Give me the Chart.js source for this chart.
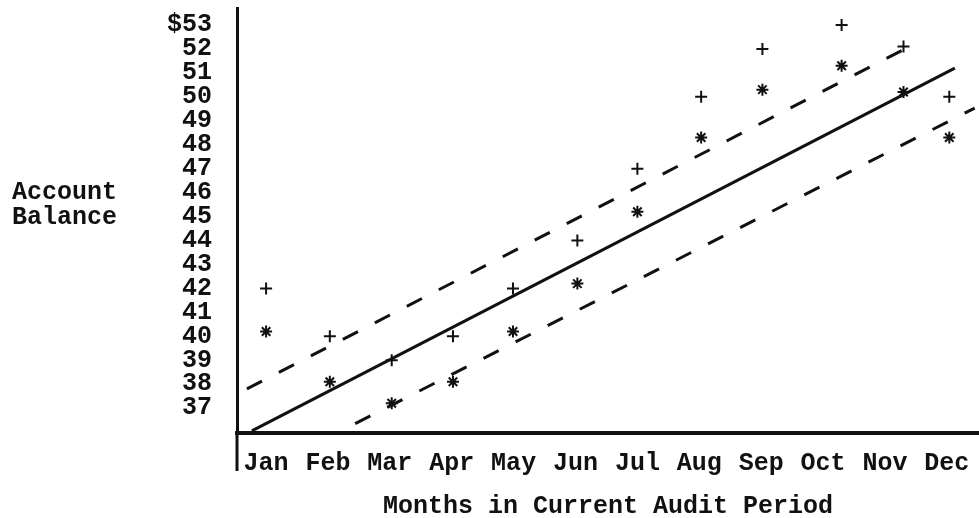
<!DOCTYPE html>
<html>
<head>
<meta charset="utf-8">
<script src="https://cdn.jsdelivr.net/npm/chart.js@4.4.1/dist/chart.umd.min.js"></script>
<style>
    body { margin: 0; background: #fff; }
    canvas { display: block; }
</style>
</head>
<body>
<canvas id="audit-chart" width="979" height="518"></canvas>
<script>
// --- data ---
const months = ['Jan', 'Feb', 'Mar', 'Apr', 'May', 'Jun', 'Jul', 'Aug', 'Sep', 'Oct', 'Nov', 'Dec'];
// where each pair of marks was typed, in months from Jan (Oct/Nov sit a bit right)
const markX = [0, 1.03, 2.03, 3.02, 3.99, 5.03, 6.0, 7.03, 8.02, 9.3, 10.3, 11.04];
const plusValues = [42.0, 40.0, 39.0, 40.0, 42.0, 44.0, 47.0, 50.0, 52.0, 53.0, 52.1, 50.0];
const starValues = [40.2, 38.1, 37.2, 38.1, 40.2, 42.2, 45.2, 48.3, 50.3, 51.3, 50.2, 48.3];

// trend line and the two dashed limit lines, end points only
const trendX = [-0.23, 11.13];
const trendY = [36.05, 51.2];
const upperX = [-0.31, 10.32];
const upperY = [37.8, 52.0];
const lowerX = [1.44, 11.45];
const lowerY = [36.35, 49.53];

const yTicks = [37, 38, 39, 40, 41, 42, 43, 44, 45, 46, 47, 48, 49, 50, 51, 52, 53];

const ink = '#111';
const typeFont = { family: '"Liberation Mono", "DejaVu Sans Mono", monospace', size: 25, weight: 'bold' };

const toPoints = (xs, ys) => xs.map((x, i) => ({ x, y: ys[i] }));

function lineSet(xs, ys, dash) {
    return {
        data: toPoints(xs, ys),
        showLine: true,
        borderColor: ink,
        borderWidth: 3,
        borderDash: dash,
        pointRadius: 0,
        fill: false
    };
}

function markSet(ys, style) {
    return {
        data: toPoints(markX, ys),
        showLine: false,
        pointStyle: style,
        pointRadius: 6,
        borderColor: ink,
        borderWidth: 2,
        backgroundColor: ink
    };
}

// side label + the y axis running on below the month axis
const typedExtras = {
    id: 'typedExtras',
    afterDraw(chart) {
        const { ctx, chartArea } = chart;
        ctx.save();
        ctx.font = `${typeFont.weight} ${typeFont.size}px ${typeFont.family}`;
        ctx.fillStyle = ink;
        ctx.textBaseline = 'middle';
        ctx.textAlign = 'left';
        ctx.fillText('Account', 12, 193);
        ctx.fillText('Balance', 12, 218);
        ctx.strokeStyle = ink;
        ctx.lineWidth = 3;
        ctx.beginPath();
        ctx.moveTo(chartArea.left, chartArea.bottom);
        ctx.lineTo(chartArea.left, chartArea.bottom + 38);
        ctx.stroke();
        ctx.restore();
    }
};

new Chart(document.getElementById('audit-chart'), {
    type: 'scatter',
    data: {
        datasets: [
            lineSet(trendX, trendY, []),
            lineSet(upperX, upperY, [17, 19]),
            lineSet(lowerX, lowerY, [17, 19]),
            markSet(plusValues, 'cross'),
            markSet(starValues, 'star')
        ]
    },
    options: {
        responsive: false,
        animation: false,
        devicePixelRatio: 1,
        layout: { autoPadding: false, padding: { top: 8, left: 0, right: 0, bottom: 0 } },
        plugins: { legend: { display: false }, tooltip: { enabled: false } },
        scales: {
            x: {
                type: 'linear',
                min: -0.47,
                max: 11.52,
                afterBuildTicks: s => { s.ticks = months.map((m, i) => ({ value: i })); },
                afterFit: s => {
                    s.height = 85;
                    s.paddingLeft = 0;
                    s.paddingRight = 0;
                },
                ticks: {
                    callback: v => months[v],
                    font: typeFont,
                    color: ink,
                    padding: 16,
                    maxRotation: 0,
                    autoSkip: false
                },
                grid: { display: false, drawTicks: false, tickLength: 0 },
                border: { display: true, color: ink, width: 4 },
                title: {
                    display: true,
                    text: 'Months in Current Audit Period',
                    font: typeFont,
                    color: ink,
                    padding: { top: 0, bottom: -4 }
                }
            },
            y: {
                type: 'linear',
                min: 35.96,
                max: 53.71,
                afterBuildTicks: s => { s.ticks = yTicks.map(v => ({ value: v })); },
                afterFit: s => {
                    s.width = 237;
                    s.paddingTop = 0;
                    s.paddingBottom = 0;
                },
                ticks: {
                    callback: v => (v === 53 ? '$' + v : String(v)),
                    font: typeFont,
                    color: ink,
                    padding: 25,
                    autoSkip: false
                },
                grid: { display: false, drawTicks: false, tickLength: 0 },
                border: { display: true, color: ink, width: 3 }
            }
        }
    },
    plugins: [typedExtras]
});
</script>
</body>
</html>
